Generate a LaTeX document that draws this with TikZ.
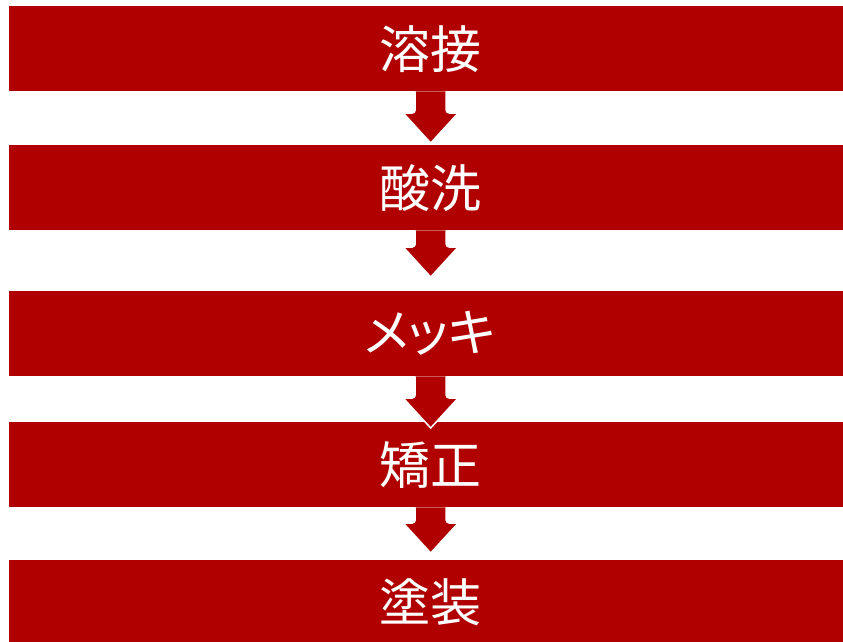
\documentclass[tikz,border=0pt]{standalone}
\usepackage{fontspec}
\newfontfamily\jpfont[RawFeature=+palt]{Noto Sans CJK JP}
\usetikzlibrary{calc}
\definecolor{boxred}{HTML}{B00000}
\tikzset{
  stepbox/.style={fill=boxred, draw=none, anchor=north west, minimum width=842pt,
    minimum height=85pt, inner sep=0pt, text=white,
    font=\jpfont\fontsize{51}{60}\selectfont},
  blockarrow/.style={fill=boxred, draw=white, line width=1.5pt, line join=miter}
}
\begin{document}
\begin{tikzpicture}[x=1pt,y=-1pt]
\useasboundingbox (0,0) rectangle (843,642);
\fill[white] (0,0) rectangle (843,642);
\node[stepbox] (b1) at (9,6) {溶接};
\node[stepbox] (b2) at (9,145) {酸洗};
\node[stepbox] (b3) at (9,291) {メッキ};
\node[stepbox] (b4) at (9,422) {矯正};
\node[stepbox] (b5) at (9,560) {塗装};
% arrow coordinates (top of shaft, tip)
\coordinate (t1) at ($(b1.south)+(0.5,0)$);
\coordinate (p1) at ($(b2.north)+(0.5,-2)$);
\coordinate (t2) at ($(b2.south)+(0.5,0)$);
\coordinate (p2) at ($(b3.north)+(0.5,-14)$);
\coordinate (t3) at ($(b3.south)+(0.5,0)$);
\coordinate (p3) at ($(b4.north)+(0.5,6)$);
\coordinate (t4) at ($(b4.south)+(0.5,0)$);
\coordinate (p4) at ($(b5.north)+(0.5,-7)$);
\foreach \i in {1,2,3,4}{
  \filldraw[blockarrow]
    ($(t\i)+(-15.5,0)$) [rounded corners=3pt] -- ($(p\i)+(-15.5,-30)$) [sharp corners]
    -- ($(p\i)+(-27.5,-30)$) -- (p\i) -- ($(p\i)+(27.5,-30)$)
    [rounded corners=3pt] -- ($(p\i)+(15.5,-30)$) [sharp corners] -- ($(t\i)+(15.5,0)$);
}
\end{tikzpicture}
\end{document}
